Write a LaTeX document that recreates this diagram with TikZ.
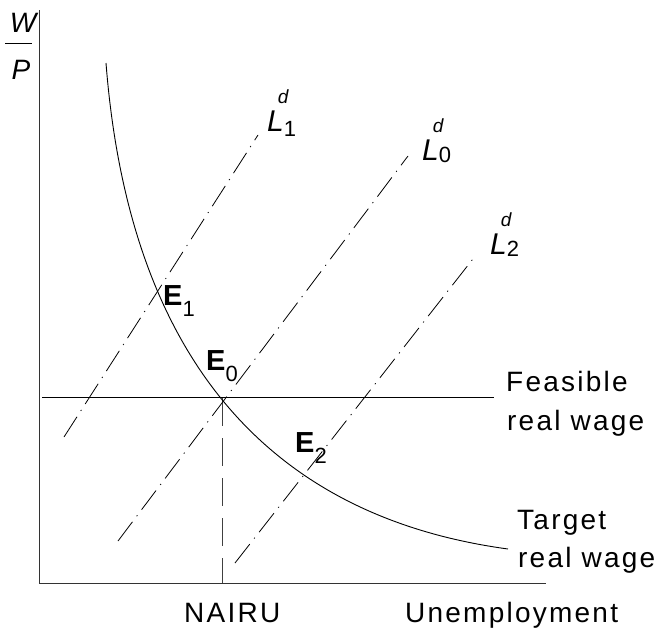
\documentclass[tikz,border=0pt]{standalone}
\usepackage{fontspec}
\setmainfont{Liberation Sans}
\newfontfamily\lbl[LetterSpace=8]{Liberation Sans}
\newcommand{\Elab}[1]{{\fontsize{29}{29}\selectfont\bfseries E}\raisebox{-11pt}{\fontsize{22}{22}\selectfont #1}}
\newcommand{\Llab}[2]{{\fontsize{30}{30}\selectfont\itshape L}\rlap{\kern-6pt\raisebox{28pt}{\fontsize{19}{19}\selectfont\itshape d}}\raisebox{-#2pt}{\fontsize{22}{22}\selectfont #1}}
\begin{document}
\begin{tikzpicture}[x=1pt,y=-1pt,
  ax/.style={line width=1pt, draw=black!80},
  ddot/.style={line width=0.8pt, dash pattern=on 24pt off 7pt on 1.2pt off 7pt},
  dsh/.style={line width=0.9pt, draw=black!75, dash pattern=on 28pt off 12pt},
  curve/.style={line width=0.9pt},
  txt/.style={inner sep=0pt, anchor=base west, font=\lbl\fontsize{28}{28}\selectfont},
  lab/.style={inner sep=0pt, anchor=base west},
  var/.style={inner sep=0pt, font=\fontsize{28}{28}\selectfont\itshape}]
\useasboundingbox (0,0) rectangle (664,637);
% axes
\coordinate (Otop) at (39,10);
\coordinate (O) at (39,583);
\coordinate (Xend) at (546,583);
\draw[ax] (Otop) -- (O) -- (Xend);
% W/P
\node[var] (W) at (23,23) {W};
\node[var] (P) at (21,70) {P};
\coordinate (barL) at (5,43);
\coordinate (barR) at (32,43);
\draw[line width=0.9pt] (barL) -- (barR);
% feasible real wage line
\coordinate (F1) at (42,397);
\coordinate (F2) at (494,397);
\draw[line width=0.9pt] (F1) -- (F2);
% NAIRU dashed
\coordinate (E0p) at (222,398);
\coordinate (Np) at (222,583);
\draw[dsh] (E0p) -- (Np);
% labour demand lines
\coordinate (L1a) at (64,437);
\coordinate (L1b) at (258,135);
\coordinate (L0a) at (118,541);
\coordinate (L0b) at (408,156);
\coordinate (L2a) at (235,563);
\coordinate (L2b) at (476,255);
\draw[ddot] (L1a) -- (L1b);
\draw[ddot] (L0a) -- (L0b);
\draw[ddot] (L2a) -- (L2b);
% target real wage curve
\coordinate (C0) at (106,63);
\coordinate (C1) at (128,345);
\coordinate (C2) at (258,515);
\coordinate (C3) at (508,549);
\draw[curve] (C0) .. controls (C1) and (C2) .. (C3);
% labels
\node[lab] (E1) at (163,305) {\Elab{1}};
\node[lab] (E0) at (206,370) {\Elab{0}};
\node[lab] (E2) at (295,452) {\Elab{2}};
\node[lab] (LL1) at (267,131) {\Llab{1}{5}};
\node[lab] (LL0) at (422,160) {\Llab{0}{2}};
\node[lab] (LL2) at (490,254) {\Llab{2}{2}};
\node[txt] (feas1) at (506,391) {Feasible};
\node[txt] (feas2) at (507,430) {real wage};
\node[txt] (targ1) at (517,529) {Target};
\node[txt] (targ2) at (518,567) {real wage};
\node[txt] (nairu) at (184,622) {NAIRU};
\node[txt] (unemp) at (405,622) {Unemployment};
\end{tikzpicture}
\end{document}
